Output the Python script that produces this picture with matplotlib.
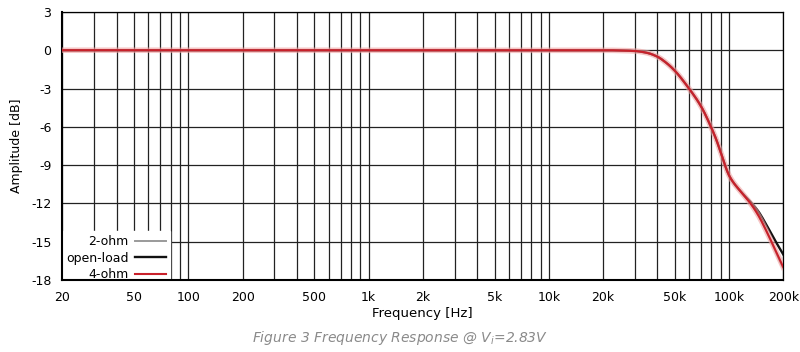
import numpy as np
import matplotlib
matplotlib.use("Agg")
import matplotlib.pyplot as plt
from matplotlib.ticker import FixedLocator, NullFormatter

plt.rcParams['font.family'] = ['DejaVu Sans']

# frequency response (Hz, dB)
freq = [20, 100, 1000, 10000, 20000, 25000, 30000, 35000, 40000, 45000, 50000,
        60000, 70000, 80000, 85000, 90000, 95000, 100000, 105000, 115000,
        130000, 145000, 163000, 180000, 200000]
open_load = [0, 0, 0, 0, 0, -0.02, -0.06, -0.2, -0.5, -1.0, -1.6,
             -3.0, -4.4, -6.1, -7.0, -8.0, -9.0, -9.8, -10.3, -11.0,
             -11.8, -12.6, -13.8, -14.9, -16.0]
four_ohm = [0, 0, 0, 0, 0, -0.02, -0.06, -0.2, -0.5, -1.0, -1.6,
            -3.0, -4.4, -6.1, -7.0, -8.0, -9.0, -9.8, -10.3, -11.0,
            -11.9, -12.9, -14.3, -15.6, -17.0]
two_ohm = [0, 0, 0, 0, 0, -0.02, -0.06, -0.2, -0.5, -1.0, -1.6,
           -3.0, -4.4, -6.1, -7.0, -8.0, -9.0, -9.8, -10.3, -11.0,
           -11.9, -12.9, -14.3, -15.7, -17.1]

xticks = [20, 50, 100, 200, 500, 1000, 2000, 5000, 10000, 20000, 50000, 100000, 200000]
xtick_labels = ['20', '50', '100', '200', '500', '1k', '2k', '5k', '10k', '20k', '50k', '100k', '200k']
yticks = [3, 0, -3, -6, -9, -12, -15, -18]


def pchip(x, y, xn):
    # monotone cubic interpolation so the curve has no corners
    x = np.asarray(x, float)
    y = np.asarray(y, float)
    h = np.diff(x)
    d = np.diff(y) / h
    m = np.zeros_like(y)
    for k in range(1, len(x) - 1):
        if d[k - 1] * d[k] > 0:
            w1 = 2 * h[k] + h[k - 1]
            w2 = h[k] + 2 * h[k - 1]
            m[k] = (w1 + w2) / (w1 / d[k - 1] + w2 / d[k])
    m[0] = d[0]
    m[-1] = d[-1]
    idx = np.clip(np.searchsorted(x, xn) - 1, 0, len(h) - 1)
    t = (xn - x[idx]) / h[idx]
    hh = h[idx]
    h00 = 2 * t**3 - 3 * t**2 + 1
    h10 = t**3 - 2 * t**2 + t
    h01 = -2 * t**3 + 3 * t**2
    h11 = t**3 - t**2
    return h00 * y[idx] + h10 * hh * m[idx] + h01 * y[idx + 1] + h11 * hh * m[idx + 1]


fig = plt.figure(figsize=(8, 3.52), dpi=100)
ax = fig.add_axes([0.078, 0.205, 0.901, 0.761])

fx = np.logspace(np.log10(20), np.log10(200000), 800)
lf = np.log10(freq)
lx = np.log10(fx)

ax.plot(fx, pchip(lf, two_ohm, lx), color='#9a9a9a', lw=1.4, label='2-ohm', zorder=3)
ax.plot(fx, pchip(lf, open_load, lx), color='#111111', lw=1.7, label='open-load', zorder=4)
ax.plot(fx, pchip(lf, four_ohm, lx), color='#f0a0a0', lw=4, alpha=0.6, zorder=4.5)
ax.plot(fx, pchip(lf, four_ohm, lx), color='#c8202a', lw=1.5, label='4-ohm', zorder=5)

ax.set_xscale('log')
ax.set_xlim(20, 200000)
ax.set_ylim(-18, 3)

minor = []
for dec in [10, 100, 1000, 10000, 100000]:
    for m in range(1, 10):
        v = m * dec
        if 20 <= v <= 200000:
            minor.append(v)
ax.xaxis.set_major_locator(FixedLocator(xticks))
ax.set_xticklabels(xtick_labels)
ax.xaxis.set_minor_locator(FixedLocator(minor))
ax.xaxis.set_minor_formatter(NullFormatter())
ax.set_yticks(yticks)
ax.set_yticklabels([str(v) for v in yticks])

ax.grid(True, which='both', axis='x', color='#222222', lw=0.9)
ax.grid(True, which='major', axis='y', color='#222222', lw=0.9)
ax.tick_params(which='both', length=0, labelsize=9, pad=8)

for side in ['top', 'right']:
    ax.spines[side].set_linewidth(0.9)
for side in ['left', 'bottom']:
    ax.spines[side].set_linewidth(1.5)

ax.set_xlabel('Frequency [Hz]', fontsize=9.5, labelpad=2)
ax.set_ylabel('Amplitude [dB]', fontsize=9, labelpad=6)

leg = ax.legend(loc='lower left', bbox_to_anchor=(0.0, -0.02), markerfirst=False,
                frameon=True, fontsize=9, handlelength=2.5, borderaxespad=0.0,
                borderpad=0.3, labelspacing=0.3, handletextpad=0.5, fancybox=False)
leg.get_frame().set_edgecolor('white')
leg.get_frame().set_facecolor('white')
leg.get_frame().set_alpha(1)
leg.set_zorder(2)
for t in leg.get_texts():
    t.set_ha('right')

fig.text(0.5, 0.04, r'Figure 3 Frequency Response @ V$_\mathregular{i}$=2.83V',
         ha='center', va='center', fontsize=10, style='italic', color='#8a8a8a')

plt.savefig('out.png', dpi=100)
